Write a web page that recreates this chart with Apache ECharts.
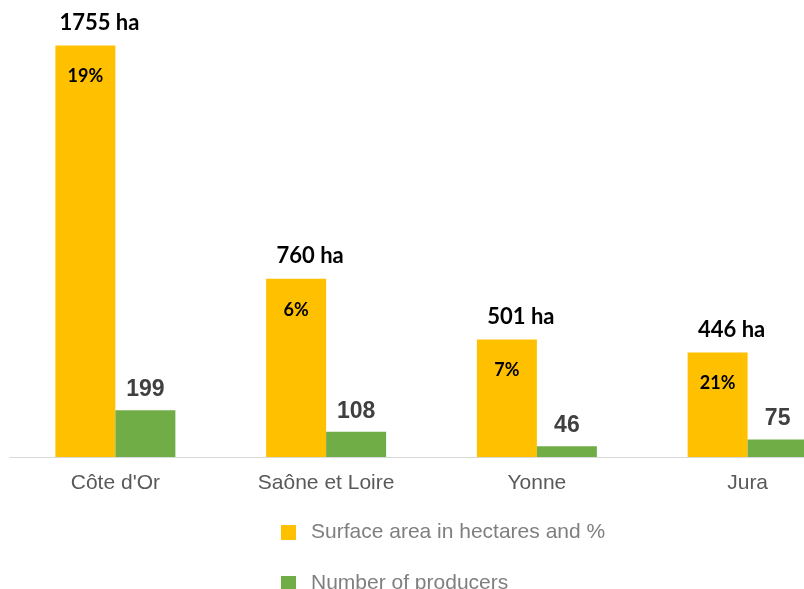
<!DOCTYPE html>
<html>
<head>
<meta charset="utf-8">
<script src="https://cdn.jsdelivr.net/npm/echarts@6/dist/echarts.min.js"></script>
<style>
  html, body { margin: 0; padding: 0; background: #fff; }
  #chart { width: 804px; height: 589px; }
</style>
</head>
<body>
<div id="chart"></div>
<script>
const categories = ['Côte d\'Or', 'Saône et Loire', 'Yonne', 'Jura'];
const surfaceHa = [1755, 760, 501, 446];
const surfacePct = [19, 6, 7, 21];
const producers = [199, 108, 46, 75];

const chart = echarts.init(document.getElementById('chart'));

const xBase = {
  type: 'category',
  data: categories,
  axisTick: { show: false }
};

const option = {
  animation: false,
  grid: { left: 10, width: 843, top: 35, bottom: 132, outerBoundsMode: 'none' },
  legend: {
    orient: 'vertical',
    left: 281,
    top: 522,
    height: 120,
    padding: 0,
    itemWidth: 15,
    itemHeight: 15,
    itemGap: 30,
    icon: 'rect',
    textStyle: { fontFamily: 'Liberation Sans', fontSize: 21, lineHeight: 15, color: '#7f7f7f', padding: [0, 0, 0, 10] },
    data: ['Surface area in hectares and %', 'Number of producers']
  },
  xAxis: [
    Object.assign({}, xBase, {
      axisLine: { lineStyle: { color: '#d9d9d9', width: 1 } },
      axisLabel: { fontFamily: 'Liberation Sans', fontSize: 21, color: '#595959', margin: 16 }
    }),
    Object.assign({}, xBase, { show: false })
  ],
  yAxis: [
    { type: 'value', min: 0, max: 1800, show: false, splitLine: { show: false } }
  ],
  series: [
    {
      name: 'Surface area in hectares and %',
      type: 'bar',
      data: surfaceHa,
      barWidth: 60,
      barGap: '0%',
      itemStyle: { color: '#FFC000' },
      label: {
        show: true,
        position: 'top',
        distance: 12,
        offset: [14, 0],
        formatter: p => p.value + ' ha',
        fontFamily: 'Lato',
        fontWeight: 'bold',
        fontSize: 22,
        color: '#000'
      }
    },
    {
      name: 'Number of producers',
      type: 'bar',
      data: producers,
      barWidth: 60,
      barGap: '0%',
      itemStyle: { color: '#70AD47' },
      label: {
        show: true,
        position: 'top',
        distance: 9,
        fontFamily: 'Liberation Sans',
        fontWeight: 'bold',
        fontSize: 23,
        color: '#404040'
      }
    },
    {
      // overlay on hidden axis, carries the % label inside the yellow bars
      type: 'bar',
      xAxisIndex: 1,
      data: surfaceHa,
      barWidth: 60,
      barGap: '0%',
      itemStyle: { color: 'transparent' },
      silent: true,
      label: {
        show: true,
        position: 'insideTop',
        distance: 22,
        formatter: p => surfacePct[p.dataIndex] + '%',
        fontFamily: 'Lato',
        fontWeight: 'bold',
        fontSize: 18,
        color: '#000'
      }
    },
    {
      type: 'bar',
      xAxisIndex: 1,
      data: producers,
      barWidth: 60,
      barGap: '0%',
      itemStyle: { color: 'transparent' },
      silent: true
    }
  ]
};

chart.setOption(option);
</script>
</body>
</html>
